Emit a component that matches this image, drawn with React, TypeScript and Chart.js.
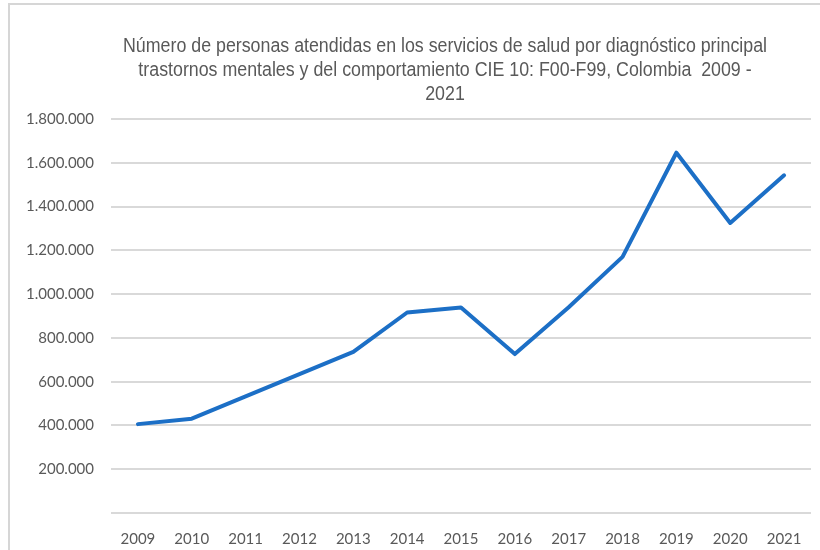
import React, { useEffect, useRef } from "react";
import { Chart, registerables } from "chart.js";

Chart.register(...registerables);

const years = ["2009", "2010", "2011", "2012", "2013", "2014", "2015", "2016", "2017", "2018", "2019", "2020", "2021"];
const personas = [406000, 431000, 533000, 634000, 736000, 916000, 939000, 726000, 940000, 1170000, 1646000, 1325000, 1543000];
const titleLines = [
  "Número de personas atendidas en los servicios de salud por diagnóstico principal",
  "trastornos mentales y del comportamiento CIE 10: F00-F99, Colombia  2009 -",
  "2021",
];
const yMin = 0;
const yMax = 1800000;
const yStep = 200000;

const fmt = (v: number) => String(Math.round(v)).replace(/\B(?=(\d{3})+(?!\d))/g, ".");

const titlePlugin = {
  id: "customTitle",
  afterDraw(chart: any) {
    const ctx = chart.ctx;
    ctx.save();
    ctx.fillStyle = "#595959";
    ctx.font = "19.5px 'Liberation Sans', Arial, sans-serif";
    ctx.textAlign = "center";
    ctx.textBaseline = "alphabetic";
    const w0 = ctx.measureText(titleLines[0]).width;
    const sx = 644 / w0;
    const cx = 445;
    const baselines = [52, 76, 100];
    titleLines.forEach((line, i) => {
      ctx.save();
      ctx.translate(cx, baselines[i]);
      ctx.scale(sx, 1);
      ctx.fillText(line, 0, 0);
      ctx.restore();
    });
    ctx.restore();
  },
};

export default function App() {
  const ref = useRef<HTMLCanvasElement | null>(null);
  useEffect(() => {
    if (!ref.current) return;
    const chart = new Chart(ref.current, {
      type: "line",
      data: {
        labels: years,
        datasets: [
          {
            data: personas,
            borderColor: "#1C6FC6",
            borderWidth: 4,
            pointRadius: 0,
            tension: 0,
            borderJoinStyle: "round",
            borderCapStyle: "round",
            fill: false,
          },
        ],
      },
      options: {
        animation: false,
        responsive: false,
        maintainAspectRatio: false,
        layout: { padding: { top: 119, right: 9, bottom: 0, left: 0 } },
        plugins: { legend: { display: false }, title: { display: false }, tooltip: { enabled: false } },
        scales: {
          x: {
            offset: true,
            grid: { display: false, drawTicks: false },
            border: { display: false },
            ticks: {
              color: "#595959",
              font: { family: "Lato, 'Open Sans', sans-serif", size: 15 },
              padding: 17,
              maxRotation: 0,
              autoSkip: false,
            },
            afterFit: (s: any) => {
              s.height = 37;
            },
          },
          y: {
            min: yMin,
            max: yMax,
            grid: { color: "#d9d9d9", lineWidth: 2, drawTicks: false, tickLength: 0 },
            border: { display: false },
            ticks: {
              stepSize: yStep,
              color: "#595959",
              font: { family: "Lato, 'Open Sans', sans-serif", size: 15 },
              padding: 17,
              callback: (v: any) => (Number(v) === 0 ? "" : fmt(Number(v))),
            },
            afterFit: (s: any) => {
              s.width = 111;
            },
          },
        },
      },
      plugins: [titlePlugin],
    });
    return () => chart.destroy();
  }, []);
  return (
    <div style={{ position: "absolute", left: 0, top: 0, width: 820, height: 550, background: "#fff", overflow: "hidden" }}>
      <div
        style={{
          position: "absolute",
          left: 8,
          top: 3,
          width: 900,
          height: 700,
          borderTop: "2px solid #d6d6d6",
          borderLeft: "2px solid #d6d6d6",
        }}
      />
      <canvas ref={ref} width={820} height={550} style={{ position: "absolute", left: 0, top: 0 }} />
    </div>
  );
}
